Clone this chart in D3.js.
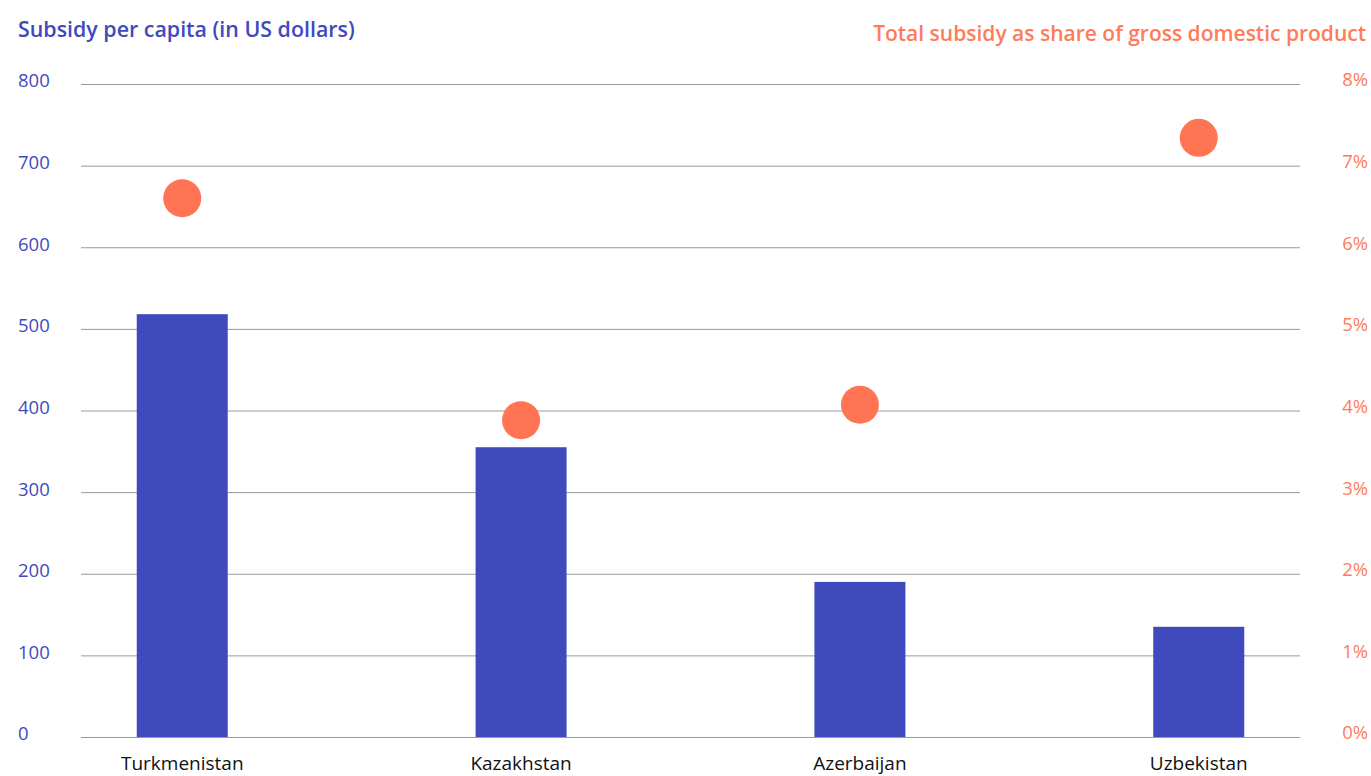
<!DOCTYPE html>
<html>
<head>
<meta charset="utf-8">
<script src="https://cdn.jsdelivr.net/npm/d3@7"></script>
<style>
  html, body { margin: 0; padding: 0; background: #fff; overflow: hidden; }
  svg { display: block; font-family: "Open Sans", "Noto Sans", sans-serif; }
</style>
</head>
<body>
<svg id="chart" width="1371" height="776"></svg>
<script>
// Energy subsidies in Central Asia
const countries = ["Turkmenistan", "Kazakhstan", "Azerbaijan", "Uzbekistan"];
const perCapitaUSD = [518, 355, 190, 135];       // bars, left axis
const shareOfGDP = [6.6, 3.88, 4.07, 7.34];        // dots, right axis (percent)
const leftTicks = [0, 100, 200, 300, 400, 500, 600, 700, 800];
const rightTicks = [0, 1, 2, 3, 4, 5, 6, 7, 8];

const W = 1371, H = 776;
const blue = "#3f4abd", orange = "#ff7452", orangeText = "#ff7b5a";
const plot = { left: 81, right: 1300, top: 84, bottom: 737 };

const svg = d3.select("#chart");

const x = d3.scaleBand().domain(countries).range([13, 1368]).paddingInner(0.731).paddingOuter(0.365);
const yL = d3.scaleLinear().domain([0, 800]).range([plot.bottom, plot.top]);
const yR = d3.scaleLinear().domain([0, 8]).range([plot.bottom, plot.top]);

// gridlines
svg.append("g")
  .selectAll("line").data(leftTicks).join("line")
  .attr("x1", plot.left).attr("x2", plot.right)
  .attr("y1", d => yL(d) + 0.5).attr("y2", d => yL(d) + 0.5)
  .attr("stroke", "#9a9a9a").attr("stroke-width", 1);

// bars
const bandW = 91;
svg.append("g")
  .selectAll("rect").data(countries).join("rect")
  .attr("x", d => x(d) + x.bandwidth() / 2 - bandW / 2)
  .attr("width", bandW)
  .attr("y", (d, i) => yL(perCapitaUSD[i]))
  .attr("height", (d, i) => yL(0) - yL(perCapitaUSD[i]))
  .attr("fill", blue);

// dots
svg.append("g")
  .selectAll("circle").data(countries).join("circle")
  .attr("cx", d => x(d) + x.bandwidth() / 2)
  .attr("cy", (d, i) => yR(shareOfGDP[i]))
  .attr("r", 19)
  .attr("fill", orange);

// left axis labels
svg.append("g")
  .selectAll("text").data(leftTicks).join("text")
  .attr("x", 18).attr("y", d => yL(d) - 3)
  .attr("dy", "0.35em")
  .attr("fill", blue).attr("font-size", 18.5)
  .text(d => d);

// right axis labels
svg.append("g")
  .selectAll("text").data(rightTicks).join("text")
  .attr("x", 1368).attr("y", d => yR(d) - 4)
  .attr("dy", "0.35em").attr("text-anchor", "end")
  .attr("fill", orangeText).attr("font-size", 18.5)
  .text(d => d + "%");

// category labels
svg.append("g")
  .selectAll("text").data(countries).join("text")
  .attr("x", d => x(d) + x.bandwidth() / 2)
  .attr("y", 770).attr("text-anchor", "middle")
  .attr("fill", "#111").attr("font-size", 19)
  .text(d => d);

// axis titles
svg.append("text")
  .attr("x", 18).attr("y", 37)
  .attr("fill", blue).attr("font-size", 21.4).attr("font-weight", 600)
  .text("Subsidy per capita (in US dollars)");

svg.append("text")
  .attr("x", 1366).attr("y", 41).attr("text-anchor", "end")
  .attr("fill", orangeText).attr("font-size", 21).attr("font-weight", 600)
  .text("Total subsidy as share of gross domestic product");
</script>
</body>
</html>
